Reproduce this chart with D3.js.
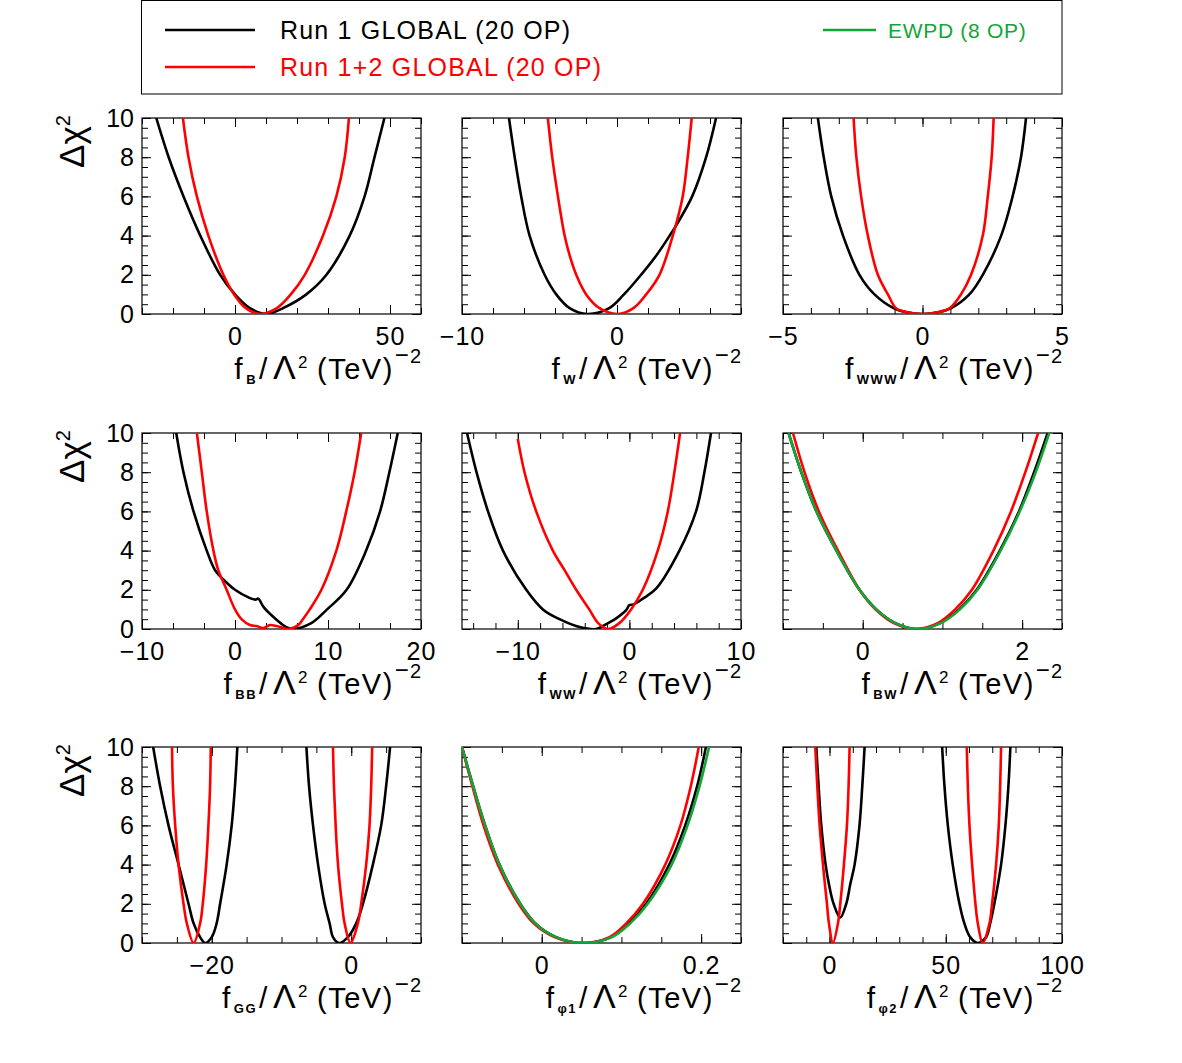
<!DOCTYPE html>
<html lang="en">
<head>
<meta charset="utf-8">
<title>Delta chi2 profiles</title>
<script src="https://d3js.org/d3.v7.min.js"></script>
<style>
  body { margin: 0; background: #fff; }
  text { font-family: "Liberation Sans", Helvetica, Arial, sans-serif; }
</style>
</head>
<body>
<script>

// ---- data: [f / Lambda^2, delta chi2]; null = gap ----
var fB_run1  = [[-25.4,10],[-21.4,8],[-16.6,6],[-11.2,4],[-4.8,2],[0,1],[4.8,0.3],[10.2,0],[15.5,0.3],[23,1],[29.5,2],[37,4],[41.8,6],[45,8],[48.2,10]];
var fB_run12 = [[-16.8,10],[-15,8],[-12.3,6],[-8.6,4],[-3.75,2],[-0.3,1],[3.5,0.3],[8,0],[13.5,0.3],[18,1],[22.5,2],[28.4,4],[32.7,6],[35.4,8],[36.75,10]];

var fW_run1  = [[-6.97,10],[-6.6,8],[-6.18,6],[-5.64,4],[-4.67,2],[-3.92,1],[-3.06,0.3],[-1.9,0],[-0.5,0.3],[0.45,1],[1.55,2],[2.55,3],[3.4,4],[3.8,4.5],[4.85,6],[5.75,8],[6.39,10]];
var fW_run12 = [[-4.46,10],[-4.18,8],[-3.81,6],[-3.38,4],[-3.06,3],[-2.63,2],[-1.99,1],[-1.13,0.3],[0.05,0],[1.06,0.3],[1.88,1],[2.74,2],[3.6,4],[4.24,6],[4.56,8],[4.82,10]];

var fWWW_run1  = [[-3.75,10],[-3.54,8],[-3.27,6],[-2.85,4],[-2.26,2],[-1.72,1],[-1.04,0.3],[-0.6,0.1],[0,0],[0.6,0.1],[1.03,0.3],[1.68,1],[2.16,2],[2.82,4],[3.23,6],[3.53,8],[3.71,10]];
var fWWW_run12 = [[-2.47,10],[-2.37,8],[-2.2,6],[-1.96,4],[-1.6,2],[-1.24,1],[-0.95,0.3],[-0.58,0.1],[0,0],[0.58,0.1],[0.98,0.3],[1.38,1],[1.74,2],[2.16,4],[2.34,6],[2.48,8],[2.55,10]];

var fBB_run1  = [[-6.32,10],[-5.54,8],[-4.46,6],[-3.04,4],[-2.14,3],[-1.2,2.5],[0,2],[1.5,1.6],[2.2,1.5],[2.5,1.55],[3.1,1.1],[4.4,0.5],[5.5,0.1],[6.2,0],[8.2,0.3],[9.9,1],[12,2],[14.1,4],[15.6,6],[16.6,8],[17.5,10]];
var fBB_run12 = [[-4.1,10],[-3.57,8],[-3.04,6],[-2.32,4],[-1.8,3],[-0.9,2],[0,1],[0.7,0.5],[1.6,0.2],[2.3,0.15],[3.0,0.05],[3.75,0.2],[4.46,0.15],[5.2,0.05],[5.8,0],[6.8,0.2],[7.3,0.5],[8.04,1],[9.29,2],[10.9,4],[11.96,6],[12.86,8],[13.57,10]];

var fWW_run1  = [[-14.55,10],[-13.7,8],[-12.67,6],[-11.33,4],[-9.24,2],[-7.75,1],[-6.26,0.5],[-4.47,0.1],[-3.0,0],[-2.23,0.2],[-1.19,0.54],[-0.29,0.96],[0,1.22],[0.36,1.25],[1.2,1.55],[2.39,2.06],[4.48,4],[5.97,6],[6.72,8],[7.31,10]];
var fWW_run12 = [[-10,9.7],[-9.4,8],[-8.35,6],[-6.86,4],[-5.81,3],[-4.77,2],[-3.6,1],[-2.8,0.3],[-1.9,0],[-0.9,0.3],[0.15,1],[1.2,2],[2.54,4],[3.44,6],[4.03,8],[4.54,10]];

var fBW_run1  = [[-0.93,10],[-0.77,8],[-0.58,6],[-0.33,4],[-0.04,2],[0.17,1],[0.41,0.3],[0.69,0],[0.97,0.3],[1.21,1],[1.43,2],[1.72,4],[1.96,6],[2.15,8],[2.32,10]];
var fBW_run12 = [[-0.875,10],[-0.73,8],[-0.55,6],[-0.31,4],[-0.04,2],[0.16,1],[0.39,0.3],[0.67,0],[0.94,0.3],[1.16,1],[1.37,2],[1.64,4],[1.86,6],[2.04,8],[2.2,10]];
var fBW_ewpd  = [[-0.93,10],[-0.77,8],[-0.58,6],[-0.33,4],[-0.04,2],[0.17,1],[0.41,0.3],[0.69,0],[0.98,0.3],[1.22,1],[1.44,2],[1.73,4],[1.97,6],[2.17,8],[2.34,10]];

var fGG_run1  = [[-28.4,10],[-27.4,8],[-26.2,6],[-24.76,4],[-23.33,2],[-22.6,1],[-21.67,0.3],[-20.95,0],[-20.0,0.3],[-19.3,1],[-18.8,2],[-17.86,4],[-17.14,6],[-16.67,8],[-16.33,10],
                 null,
                 [-6.43,10],[-6.05,8],[-5.48,6],[-4.76,4],[-3.81,2],[-3.1,1],[-2.62,0.3],[-1.76,0],[-0.48,0.3],[0.71,1],[1.67,2],[3.1,4],[4.29,6],[5.0,8],[5.57,10]];
var fGG_run12 = [[-25.7,10],[-25.57,8],[-25.24,6],[-24.76,4],[-24.05,2],[-23.57,1],[-22.6,0],[-21.67,1],[-21.29,2],[-20.8,4],[-20.48,6],[-20.24,8],[-20.14,10],
                 null,
                 [-2.62,10],[-2.48,8],[-2.24,6],[-1.9,4],[-1.33,2],[-0.95,1],[-0.1,0],[0.95,1],[1.43,2],[2.14,4],[2.62,6],[2.86,8],[3.0,10]];

var fP1_run1  = [[-0.1,10],[-0.086,8],[-0.071,6],[-0.053,4],[-0.027,2],[-0.008,1],[0.018,0.3],[0.052,0],[0.087,0.3],[0.109,1],[0.131,2],[0.16,4],[0.18,6],[0.195,8],[0.206,10]];
var fP1_run12 = [[-0.1,10],[-0.087,8],[-0.073,6],[-0.055,4],[-0.029,2],[-0.01,1],[0.016,0.3],[0.05,0],[0.085,0.3],[0.106,1],[0.127,2],[0.155,4],[0.174,6],[0.187,8],[0.197,10]];
var fP1_ewpd  = [[-0.1,10],[-0.086,8],[-0.071,6],[-0.053,4],[-0.027,2],[-0.008,1],[0.018,0.3],[0.052,0],[0.088,0.3],[0.111,1],[0.133,2],[0.163,4],[0.183,6],[0.198,8],[0.21,10]];

var fP2_run1  = [[-5.68,10],[-4.68,8],[-3.53,6],[-1.67,4],[-0.24,3],[1.77,2],[4.63,1.3],[7.2,2],[8.93,3],[10.8,4],[12.9,6],[14.1,8],[15.1,10],
                 null,
                 [48.45,10],[49.45,8],[50.9,6],[53.0,4],[55.9,2],[58.0,1],[60.5,0.3],[63.8,0],[67.35,0.3],[69.1,1],[70.9,2],[73.8,4],[75.66,6],[76.95,8],[77.8,10]];
var fP2_run12 = [[-6.11,10],[-5.25,8],[-4.25,6],[-2.8,4],[-1.1,2],[-0.24,1],[1.48,0],[3.63,1],[4.63,2],[6.2,4],[7.5,6],[8.21,8],[8.64,10],
                 null,
                 [59.05,10],[59.5,8],[60.2,6],[61.34,4],[62.77,2],[63.8,1],[65.9,0],[68.8,1],[69.93,2],[71.65,4],[72.8,6],[73.4,8],[73.8,10]];

// x tick labels per panel
var fB_labels   = [0, 50];
var fW_labels   = [-10, 0];
var fWWW_labels = [-5, 0, 5];
var fBB_labels  = [-10, 0, 10, 20];
var fWW_labels  = [-10, 0, 10];
var fBW_labels  = [0, 2];
var fGG_labels  = [-20, 0];
var fP1_labels  = [0, 0.2];
var fP2_labels  = [0, 50, 100];
var y_labels    = [0, 2, 4, 6, 8, 10];

var legendNames = ["Run 1 GLOBAL (20 OP)", "Run 1+2 GLOBAL (20 OP)", "EWPD (8 OP)"];
var colors = ["#000000", "#ff0000", "#13a538"];

var panels = [
  {sub: "B",   domain: [-30, 60],   minor: [-30, 60, 10],      labels: fB_labels,   curves: [fB_run1, fB_run12]},
  {sub: "W",   domain: [-10, 8],    minor: [-10, 8, 2],        labels: fW_labels,   curves: [fW_run1, fW_run12]},
  {sub: "WWW", domain: [-5, 5],     minor: [-5, 5, 1],         labels: fWWW_labels, curves: [fWWW_run1, fWWW_run12]},
  {sub: "BB",  domain: [-10, 20],   minor: [-10, 20, 10/3],    labels: fBB_labels,  curves: [fBB_run1, fBB_run12]},
  {sub: "WW",  domain: [-15, 10],   minor: [-14, 10, 2],       labels: fWW_labels,  curves: [fWW_run1, fWW_run12]},
  {sub: "BW",  domain: [-1, 2.5],   minor: [-1, 2.5, 0.5],     labels: fBW_labels,  curves: [fBW_run1, fBW_run12, fBW_ewpd]},
  {sub: "GG",  domain: [-30, 10],   minor: [-30, 10, 5],       labels: fGG_labels,  curves: [fGG_run1, fGG_run12]},
  {sub: "\u03c61", domain: [-0.1, 0.25], minor: [-0.1, 0.25, 0.05], labels: fP1_labels, curves: [fP1_run1, fP1_run12, fP1_ewpd]},
  {sub: "\u03c62", domain: [-20, 100], minor: [-20, 100, 10],   labels: fP2_labels,  curves: [fP2_run1, fP2_run12]}
];

// ---- layout ----
var w = 1182, h = 1063;
var colX = [142, 462, 783];
var rowY = [118, 433, 747];
var pw = 279, ph = 196;

var svg = d3.select("body").append("svg")
      .attr("width", w)
      .attr("height", h);

function fmt(d) {
  return d < 0 ? "\u2212" + Math.abs(d) : String(d);
}

function rangeTicks(m) {
  var out = [];
  for (var v = m[0]; v <= m[1] + m[2] * 0.01; v += m[2]) out.push(+v.toFixed(6));
  return out;
}

var yScale = d3.scaleLinear().domain([0, 10]).range([ph, 0]);
var yMinor = d3.range(0, 10.01, 0.5);

function styleAxis(sel) {
  sel.select(".domain").remove();
  sel.selectAll(".tick line").attr("stroke", "#000").attr("stroke-width", 1);
  sel.attr("font-family", null).attr("font-size", null);
}

panels.forEach(function(p, i) {
  var col = i % 3, row = Math.floor(i / 3);
  var g = svg.append("g")
      .attr("transform", "translate(" + colX[col] + "," + rowY[row] + ")");

  var xScale = d3.scaleLinear().domain(p.domain).range([0, pw]);
  var xMinor = rangeTicks(p.minor);

  g.append("clipPath").attr("id", "clip" + i)
    .append("rect").attr("width", pw).attr("height", ph);

  // ticks on all four sides, pointing inward
  g.append("g").attr("transform", "translate(0," + ph + ")")
    .call(d3.axisBottom(xScale).tickValues(xMinor).tickSize(-6).tickFormat(""))
    .call(styleAxis);
  g.append("g").attr("transform", "translate(0," + ph + ")")
    .call(d3.axisBottom(xScale).tickValues(p.labels).tickSize(-9).tickPadding(13).tickFormat(fmt))
    .call(styleAxis)
    .selectAll("text")
      .attr("font-size", 25)
      .attr("letter-spacing", 1)
      .attr("fill", "#000");
  g.append("g")
    .call(d3.axisTop(xScale).tickValues(xMinor).tickSize(-6).tickFormat(""))
    .call(styleAxis);
  g.append("g")
    .call(d3.axisTop(xScale).tickValues(p.labels).tickSize(-9).tickFormat(""))
    .call(styleAxis);

  g.append("g")
    .call(d3.axisLeft(yScale).tickValues(yMinor).tickSize(-6).tickFormat(""))
    .call(styleAxis);
  g.append("g")
    .call(d3.axisLeft(yScale).tickValues(y_labels).tickSize(-9).tickPadding(8).tickFormat(col == 0 ? fmt : ""))
    .call(styleAxis)
    .selectAll("text")
      .attr("font-size", 25)
      .attr("fill", "#000");
  g.append("g").attr("transform", "translate(" + pw + ",0)")
    .call(d3.axisRight(yScale).tickValues(yMinor).tickSize(-6).tickFormat(""))
    .call(styleAxis);
  g.append("g").attr("transform", "translate(" + pw + ",0)")
    .call(d3.axisRight(yScale).tickValues(y_labels).tickSize(-9).tickFormat(""))
    .call(styleAxis);

  // frame
  g.append("rect")
    .attr("width", pw).attr("height", ph)
    .attr("fill", "none").attr("stroke", "#000").attr("stroke-width", 1.2);

  // curves
  var line = d3.line()
    .defined(function(d) { return d !== null; })
    .x(function(d) { return xScale(d[0]); })
    .y(function(d) { return yScale(d[1]); })
    .curve(d3.curveCatmullRom.alpha(0.5));

  var cg = g.append("g").attr("clip-path", "url(#clip" + i + ")");
  p.curves.forEach(function(c, k) {
    cg.append("path")
      .attr("d", line(c))
      .attr("fill", "none")
      .attr("stroke", colors[k])
      .attr("stroke-width", 2.6)
      .attr("stroke-linejoin", "round");
  });

  // x title:  f_sub / Lambda^2 (TeV)^-2
  var t = g.append("text")
    .attr("x", pw).attr("y", ph + 65)
    .attr("text-anchor", "end")
    .attr("letter-spacing", 1.5)
    .attr("font-size", 30);
  t.append("tspan").text("f");
  t.append("tspan").attr("dx", 2).attr("dy", 5).attr("font-size", 13).attr("font-weight", "bold").text(p.sub);
  t.append("tspan").attr("dx", 2).attr("dy", -5).text("/");
  t.append("tspan").attr("dx", 4).attr("font-size", 34).text("\u039b");
  t.append("tspan").attr("dx", 1).attr("dy", -11).attr("font-size", 17).text("2");
  t.append("tspan").attr("dx", 8).attr("dy", 11).attr("font-size", 29).text("(TeV)");
  t.append("tspan").attr("dx", 1).attr("dy", -16).attr("font-size", 24).attr("letter-spacing", 0).text("\u2212");
  t.append("tspan").attr("dx", 1).attr("font-size", 20).attr("letter-spacing", 0).text("2");

  // y title on the left column
  if (col == 0) {
    var yt = svg.append("text")
      .attr("transform", "translate(84," + (rowY[row] + 50) + ") rotate(-90)")
      .attr("font-size", 35);
    yt.append("tspan").text("\u0394\u03c7");
    yt.append("tspan").attr("dy", -14).attr("font-size", 20).text("2");
  }
});

// ---- legend ----
var leg = svg.append("g");
leg.append("rect")
  .attr("x", 141.5).attr("y", 0.5)
  .attr("width", 920.5).attr("height", 93.5)
  .attr("fill", "#fff").attr("stroke", "#000").attr("stroke-width", 1);

var legItems = [
  {x1: 165, x2: 255, y: 30, tx: 280, size: 25, ls: 1.2},
  {x1: 165, x2: 255, y: 67, tx: 280, size: 25, ls: 1.2},
  {x1: 823, x2: 876, y: 30, tx: 888, size: 21, ls: 0.7}
];
legItems.forEach(function(d, k) {
  leg.append("line")
    .attr("x1", d.x1).attr("x2", d.x2).attr("y1", d.y).attr("y2", d.y)
    .attr("stroke", colors[k]).attr("stroke-width", 2.6);
  leg.append("text")
    .attr("x", d.tx).attr("y", d.y + d.size * 0.36)
    .attr("font-size", d.size)
    .attr("letter-spacing", d.ls)
    .attr("fill", colors[k])
    .text(legendNames[k]);
});

</script>
</body>
</html>
